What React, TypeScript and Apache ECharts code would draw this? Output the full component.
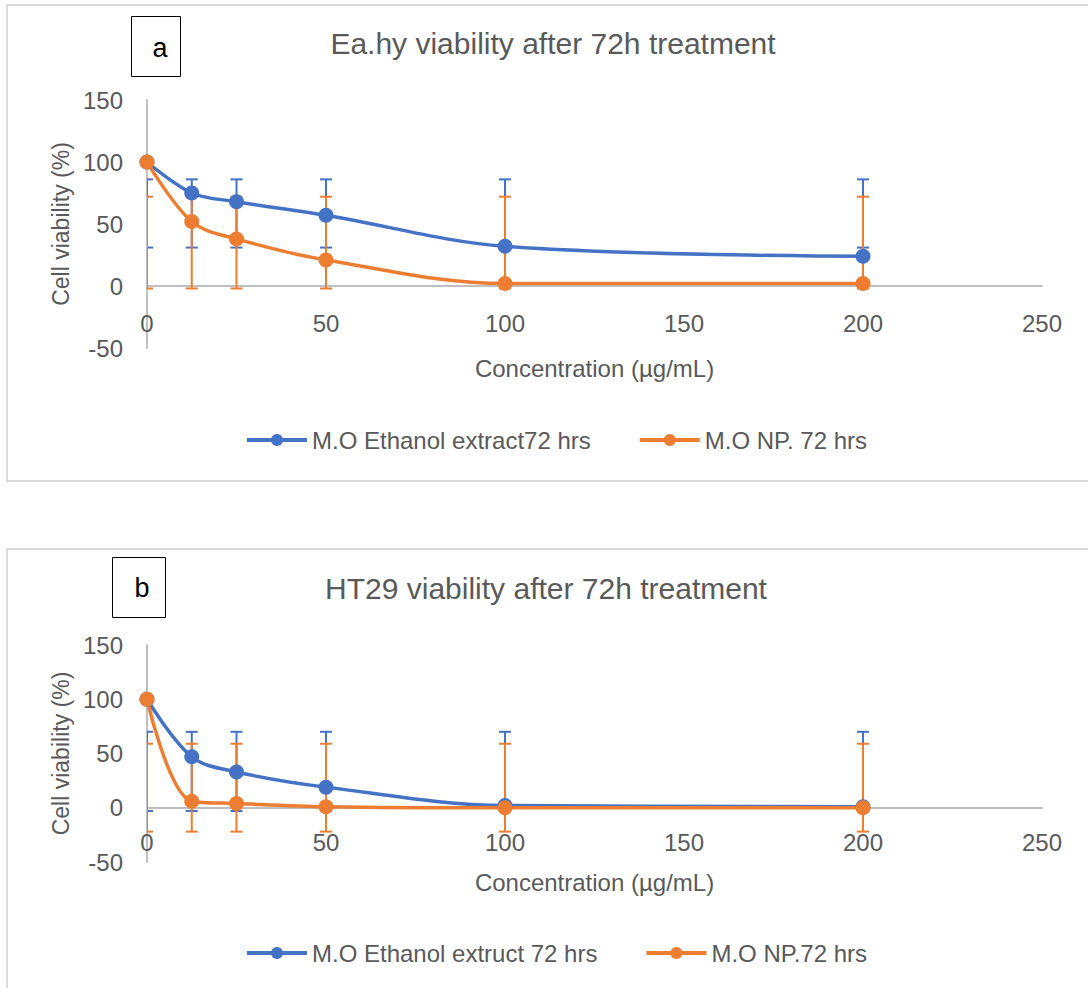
import React, { useEffect, useRef } from "react";
import * as echarts from "echarts";

const xValues = [0, 12.5, 25, 50, 100, 200];

// Panel a: Ea.hy
const ethanolA = [100, 75, 68, 57, 32, 24];
const npA = [100, 52, 38, 21, 2, 2];
const ethanolAErrLow = [31, 31, 31, 31, 31, 31];
const ethanolAErrHigh = [86, 86, 86, 86, 86, 86];
const npAErrLow = [-2, -2, -2, -2, -2, -2];
const npAErrHigh = [72, 72, 72, 72, 72, 72];

// Panel b: HT29
const ethanolB = [100, 47, 33, 19, 2, 1];
const npB = [100, 6, 4, 1, 0, 0];
const ethanolBErrLow = [-3, -3, -3, -3, -3, -3];
const ethanolBErrHigh = [70, 70, 70, 70, 70, 70];
const npBErrLow = [-22, -22, -22, -22, -22, -22];
const npBErrHigh = [59, 59, 59, 59, 59, 59];

const titleA = "Ea.hy viability after 72h treatment";
const titleB = "HT29 viability after 72h treatment";
const legendA = ["M.O Ethanol extract72 hrs", "M.O NP. 72 hrs"];
const legendB = ["M.O Ethanol extruct 72 hrs", "M.O NP.72 hrs"];
const xName = "Concentration (µg/mL)";
const yName = "Cell viability (%)";

const BLUE = "#4472c4";
const ORANGE = "#ed7d31";
const TXT = "#595959";
const FONT = "Liberation Sans, Arial, sans-serif";

function pairs(ys: number[]) {
  return xValues.map((x, i) => [x, ys[i]]);
}
function errData(lo: number[], hi: number[]) {
  return xValues.map((x, i) => [x, lo[i], hi[i]]);
}

function errSeries(name: string, idx: number, lo: number[], hi: number[], color: string) {
  return {
    type: "custom",
    name,
    xAxisIndex: idx,
    yAxisIndex: idx,
    clip: true,
    silent: true,
    z: 2,
    encode: { x: 0, y: [1, 2] },
    data: errData(lo, hi),
    renderItem: (_params: any, api: any) => {
      const x = api.value(0);
      const pLo = api.coord([x, api.value(1)]);
      const pHi = api.coord([x, api.value(2)]);
      const w = 6;
      const st = { stroke: color, lineWidth: 2 };
      return {
        type: "group",
        children: [
          { type: "line", shape: { x1: pLo[0], y1: pLo[1], x2: pHi[0], y2: pHi[1] }, style: st },
          { type: "line", shape: { x1: pLo[0] - w, y1: pLo[1], x2: pLo[0] + w, y2: pLo[1] }, style: st },
          { type: "line", shape: { x1: pHi[0] - w, y1: pHi[1], x2: pHi[0] + w, y2: pHi[1] }, style: st },
        ],
      };
    },
  };
}

function lineSeries(name: string, idx: number, ys: number[], color: string) {
  return {
    type: "line",
    name,
    xAxisIndex: idx,
    yAxisIndex: idx,
    data: pairs(ys),
    smooth: 0.35,
    symbol: "circle",
    symbolSize: 15,
    z: 3,
    itemStyle: { color },
    lineStyle: { color, width: 3.5 },
  };
}

function xAxis(idx: number, margin: number, gap: number) {
  return {
    type: "value",
    gridIndex: idx,
    min: 0,
    max: 250,
    interval: 50,
    name: xName,
    nameLocation: "middle",
    nameGap: gap,
    nameTextStyle: { color: TXT, fontSize: 24, fontFamily: FONT },
    axisLine: { show: true, onZero: true, lineStyle: { color: "#bfbfbf", width: 2 } },
    axisTick: { show: false },
    splitLine: { show: false },
    axisLabel: { color: TXT, fontSize: 24, fontFamily: FONT, margin },
  };
}

function yAxis(idx: number, gap: number) {
  return {
    type: "value",
    gridIndex: idx,
    min: -50,
    max: 150,
    interval: 50,
    name: yName,
    nameLocation: "middle",
    nameRotate: 90,
    nameGap: gap,
    nameTextStyle: { color: TXT, fontSize: 23, fontFamily: FONT },
    axisLine: { show: true, lineStyle: { color: "#bfbfbf", width: 2 } },
    axisTick: { show: false },
    splitLine: { show: false },
    axisLabel: { color: TXT, fontSize: 24, fontFamily: FONT, margin: 24 },
  };
}

function legend(names: string[], top: number) {
  return {
    data: names,
    left: 245,
    top,
    padding: 0,
    itemWidth: 60,
    itemHeight: 15,
    itemGap: 47,
    lineStyle: { width: 4 },
    textStyle: { color: TXT, fontSize: 24, fontFamily: FONT },
    selectedMode: false,
  };
}

export default function App() {
  const ref = useRef<HTMLDivElement>(null);
  useEffect(() => {
    if (!ref.current) return;
    const chart = echarts.init(ref.current, undefined, { renderer: "svg" });
    const option: any = {
      animation: false,
      backgroundColor: "#ffffff",
      title: [
        {
          text: titleA,
          left: 553,
          top: 28,
          padding: 0,
          textAlign: "center",
          textStyle: { color: TXT, fontSize: 30, fontWeight: "normal", fontFamily: FONT },
        },
        {
          text: titleB,
          left: 546,
          top: 573,
          padding: 0,
          textAlign: "center",
          textStyle: { color: TXT, fontSize: 30, fontWeight: "normal", fontFamily: FONT },
        },
      ],
      grid: [
        { left: 147, right: 46, top: 100, height: 248 },
        { left: 147, right: 46, top: 645, height: 217 },
      ],
      xAxis: [xAxis(0, -37, 8), xAxis(1, -32, 8)],
      yAxis: [yAxis(0, 75), yAxis(1, 75)],
      legend: [legend(legendA, 428), legend(legendB, 941)],
      graphic: [
        { type: "rect", shape: { x: 7, y: 5, width: 1100, height: 476 }, style: { fill: "none", stroke: "#d9d9d9", lineWidth: 2 }, z: 0 },
        { type: "rect", shape: { x: 7, y: 549, width: 1100, height: 460 }, style: { fill: "none", stroke: "#d9d9d9", lineWidth: 2 }, z: 0 },
        { type: "rect", shape: { x: 131.5, y: 16.5, width: 49, height: 60 }, style: { fill: "#fff", stroke: "#000", lineWidth: 1 }, z: 5 },
        { type: "text", x: 160, y: 48, style: { text: "a", fill: "#000", fontSize: 27, fontFamily: FONT, align: "center", verticalAlign: "middle" }, z: 6 },
        { type: "rect", shape: { x: 112.5, y: 557.5, width: 53, height: 60 }, style: { fill: "#fff", stroke: "#000", lineWidth: 1 }, z: 5 },
        { type: "text", x: 142, y: 588, style: { text: "b", fill: "#000", fontSize: 27, fontFamily: FONT, align: "center", verticalAlign: "middle" }, z: 6 },
      ],
      series: [
        errSeries("errEthA", 0, ethanolAErrLow, ethanolAErrHigh, BLUE),
        errSeries("errNpA", 0, npAErrLow, npAErrHigh, ORANGE),
        lineSeries(legendA[0], 0, ethanolA, BLUE),
        lineSeries(legendA[1], 0, npA, ORANGE),
        errSeries("errEthB", 1, ethanolBErrLow, ethanolBErrHigh, BLUE),
        errSeries("errNpB", 1, npBErrLow, npBErrHigh, ORANGE),
        lineSeries(legendB[0], 1, ethanolB, BLUE),
        lineSeries(legendB[1], 1, npB, ORANGE),
      ],
    };
    chart.setOption(option);
    return () => chart.dispose();
  }, []);
  return (
    <div
      ref={ref}
      style={{ position: "fixed", left: 0, top: 0, width: 1088, height: 988, background: "#fff" }}
    />
  );
}
